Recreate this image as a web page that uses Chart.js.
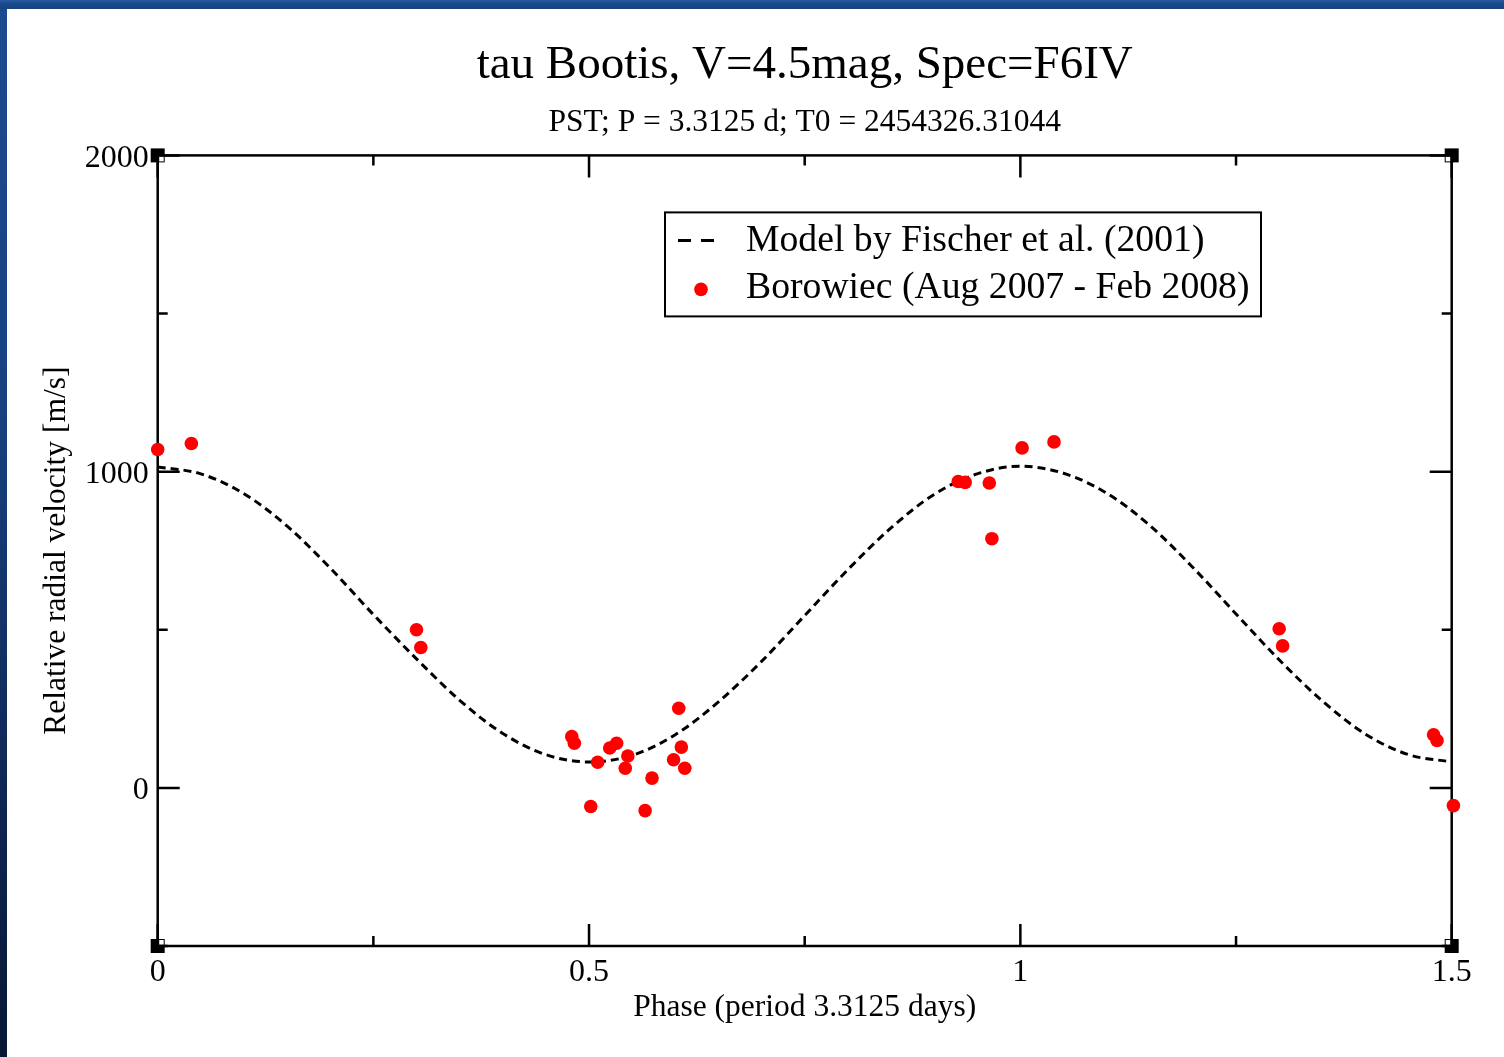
<!DOCTYPE html>
<html>
<head>
<meta charset="utf-8">
<title>tau Bootis radial velocity</title>
<script src="https://cdn.jsdelivr.net/npm/chart.js@4.4.1/dist/chart.umd.min.js"></script>
<style>
  html, body { margin: 0; padding: 0; background: #fff; overflow: hidden; }
  #wrap { position: relative; width: 1504px; height: 1057px; }
  #rvChart { position: absolute; left: 0; top: 0; }
  .edge-top { position: absolute; left: 0; top: 0; width: 1504px; height: 9px;
    background: linear-gradient(#2b5ca3, #1b4b8f 35%, #17437f); }
  .edge-left { position: absolute; left: 0; top: 0; width: 7px; height: 1057px;
    background: linear-gradient(#1b4b8f, #17407e 40%, #0f2a5a 70%, #081734); }
</style>
</head>
<body>
<div id="wrap">
  <canvas id="rvChart" width="1504" height="1057"></canvas>
  <div class="edge-left"></div>
  <div class="edge-top"></div>
</div>
<script>
const serif = "'Liberation Serif', 'Times New Roman', serif";

// model curve, sampled every 0.05 in phase
const modelPhase = [0, 0.05, 0.1, 0.15, 0.2, 0.25, 0.3, 0.35, 0.4, 0.45, 0.5,
  0.55, 0.6, 0.65, 0.7, 0.75, 0.8, 0.85, 0.9, 0.95, 1.0,
  1.05, 1.1, 1.15, 1.2, 1.25, 1.3, 1.35, 1.4, 1.45, 1.5];
const modelVelocity = [1015, 993, 930, 828, 695, 548, 408, 277, 172, 105, 82,
  103, 168, 272, 400, 545, 690, 822, 928, 993, 1017,
  995, 932, 830, 697, 550, 405, 275, 170, 105, 82];

// measured radial velocities (phase, m/s)
const obsPhase = [0.000, 0.039, 0.300, 0.305, 0.480, 0.483, 0.502, 0.510, 0.524,
  0.532, 0.545, 0.542, 0.573, 0.565, 0.604, 0.607, 0.598, 0.611,
  0.928, 0.936, 0.964, 0.967, 1.002, 1.039, 1.300, 1.304, 1.479, 1.483, 1.502];
const obsVelocity = [1070, 1089, 500, 444, 162, 141, -59, 81, 126,
  141, 101, 62, 31, -72, 252, 129, 89, 62,
  969, 966, 964, 788, 1075, 1094, 503, 449, 168, 150, -56];

const titleText = "tau Bootis, V=4.5mag, Spec=F6IV";
const subtitleText = "PST; P = 3.3125 d; T0 = 2454326.31044";
const xTitle = "Phase (period 3.3125 days)";
const yTitle = "Relative radial velocity [m/s]";

const xLabelled = [0, 0.5, 1, 1.5];
const yLabelled = [0, 1000, 2000];

const isLabelled = (list, v) => list.some((t) => Math.abs(t - v) < 1e-9);

// box round the plot, inward ticks on all four sides, corner marks
const frameTicks = {
  id: "frameTicks",
  beforeDatasetsDraw(chart, args, opts) {
    const { ctx, chartArea: a, scales } = chart;
    ctx.save();
    ctx.strokeStyle = "#000";
    ctx.lineWidth = opts.lineWidth;
    ctx.strokeRect(a.left, a.top, a.right - a.left, a.bottom - a.top);

    ctx.beginPath();
    scales.x.ticks.forEach((t) => {
      const px = scales.x.getPixelForValue(t.value);
      const len = isLabelled(xLabelled, t.value) ? opts.major : opts.minor;
      ctx.moveTo(px, a.bottom);
      ctx.lineTo(px, a.bottom - len);
      ctx.moveTo(px, a.top);
      ctx.lineTo(px, a.top + len);
    });
    scales.y.ticks.forEach((t) => {
      const py = scales.y.getPixelForValue(t.value);
      const len = isLabelled(yLabelled, t.value) ? opts.major : opts.minor;
      ctx.moveTo(a.left, py);
      ctx.lineTo(a.left + len, py);
      ctx.moveTo(a.right, py);
      ctx.lineTo(a.right - len, py);
    });
    ctx.stroke();

    const corners = [
      [a.left, a.top, 1, 1],
      [a.right, a.top, -1, 1],
      [a.left, a.bottom, 1, -1],
      [a.right, a.bottom, -1, -1],
    ];
    corners.forEach(([cx, cy, dx, dy]) => {
      ctx.fillStyle = "#000";
      ctx.fillRect(cx - 7, cy - 7, 14, 14);
      ctx.fillStyle = "#fff";
      const nx = dx > 0 ? cx + 1.5 : cx - 6;
      const ny = dy > 0 ? cy + 1.5 : cy - 6;
      ctx.fillRect(nx, ny, 4.5, 4.5);
    });
    ctx.restore();
  },
};

// framed legend inside the plot
const boxLegend = {
  id: "boxLegend",
  afterDraw(chart, args, opts) {
    const { ctx, chartArea } = chart;
    const x = chartArea.left + opts.left;
    const y = chartArea.top + opts.top;
    ctx.save();
    ctx.fillStyle = "#fff";
    ctx.fillRect(x, y, opts.width, opts.height);
    ctx.strokeStyle = "#000";
    ctx.lineWidth = 2;
    ctx.strokeRect(x, y, opts.width, opts.height);

    ctx.font = opts.fontSize + "px " + serif;
    ctx.textBaseline = "middle";
    opts.order.forEach((di, row) => {
      const ds = chart.data.datasets[di];
      const cy = y + opts.firstRow + row * opts.rowGap;
      if (ds.showLine) {
        ctx.strokeStyle = ds.borderColor;
        ctx.lineWidth = ds.borderWidth;
        ctx.setLineDash([13, 10]);
        ctx.beginPath();
        ctx.moveTo(x + 13, cy - 1);
        ctx.lineTo(x + 51, cy - 1);
        ctx.stroke();
        ctx.setLineDash([]);
      } else {
        ctx.fillStyle = ds.backgroundColor;
        ctx.beginPath();
        ctx.arc(x + 36, cy + 1, ds.pointRadius, 0, Math.PI * 2);
        ctx.fill();
      }
      ctx.fillStyle = "#000";
      ctx.fillText(ds.label, x + opts.textLeft, cy);
    });
    ctx.restore();
  },
};

const ctx = document.getElementById("rvChart");

const rvChart = new Chart(ctx, {
  type: "scatter",
  data: {
    datasets: [
      {
        label: "Borowiec (Aug 2007 - Feb 2008)",
        data: obsPhase.map((p, i) => ({ x: p, y: obsVelocity[i] })),
        backgroundColor: "#ff0000",
        borderWidth: 0,
        pointRadius: 6.8,
        pointHoverRadius: 6.8,
        clip: false,
      },
      {
        label: "Model by Fischer et al. (2001)",
        data: modelPhase.map((p, i) => ({ x: p, y: modelVelocity[i] })),
        showLine: true,
        borderColor: "#000",
        borderWidth: 3,
        borderDash: [8, 5],
        pointRadius: 0,
        fill: false,
        cubicInterpolationMode: "monotone",
      },
    ],
  },
  options: {
    responsive: false,
    animation: false,
    layout: { padding: { left: 0, right: 52.3, top: 0, bottom: 0 } },
    scales: {
      x: {
        type: "linear",
        min: 0,
        max: 1.5,
        afterFit: (s) => { s.height = 111; },
        grid: { display: false, drawTicks: false },
        border: { display: false },
        ticks: {
          stepSize: 0.25,
          autoSkip: false,
          maxRotation: 0,
          padding: 7,
          color: "#000",
          font: { family: serif, size: 32 },
          callback: (v) => (isLabelled(xLabelled, v) ? String(v) : ""),
        },
        title: {
          display: true,
          text: xTitle,
          color: "#000",
          font: { family: serif, size: 31.5 },
          padding: { top: 0, bottom: 30.7 },
        },
      },
      y: {
        type: "linear",
        min: -500,
        max: 2000,
        afterFit: (s) => { s.width = 157.7; },
        grid: { display: false, drawTicks: false },
        border: { display: false },
        ticks: {
          stepSize: 500,
          autoSkip: false,
          padding: 9,
          color: "#000",
          // empty first line with a short line height nudges the number
          // a few pixels down so it sits centred on its tick
          font: { family: serif, size: 32, lineHeight: "6px" },
          callback: (v) => (isLabelled(yLabelled, v) ? ["", String(v)] : ""),
        },
        title: {
          display: true,
          text: yTitle,
          color: "#000",
          font: { family: serif, size: 31.5 },
          padding: { top: 37.5, bottom: 0 },
        },
      },
    },
    plugins: {
      legend: { display: false },
      tooltip: { enabled: false },
      title: {
        display: true,
        fullSize: false,
        text: titleText,
        color: "#000",
        font: { family: serif, size: 47, weight: "normal" },
        padding: { top: 37, bottom: 10 },
      },
      subtitle: {
        display: true,
        fullSize: false,
        text: subtitleText,
        color: "#000",
        font: { family: serif, size: 31.5, weight: "normal" },
        padding: { top: 0, bottom: 14.2 },
      },
      frameTicks: { lineWidth: 2.5, major: 22, minor: 10 },
      boxLegend: {
        left: 507.3,
        top: 57,
        width: 596,
        height: 104,
        firstRow: 29,
        rowGap: 47,
        textLeft: 81,
        fontSize: 37.7,
        order: [1, 0],
      },
    },
  },
  plugins: [frameTicks, boxLegend],
});
</script>
</body>
</html>
